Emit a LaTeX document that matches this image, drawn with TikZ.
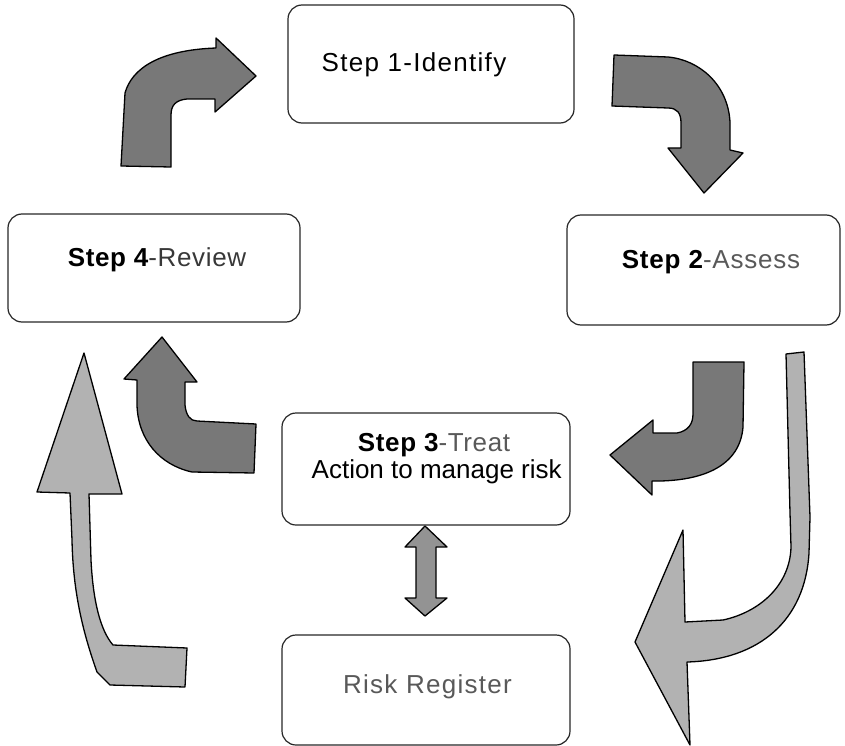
\documentclass[tikz,border=0pt]{standalone}
\usepackage{fontspec}
\setmainfont{Liberation Sans}
\newcommand\trk[2]{{\addfontfeature{LetterSpace=#1}#2}}
\newcommand\trkb[2]{{\bfseries\addfontfeature{LetterSpace=#1}#2}}
\definecolor{darkfill}{gray}{0.47}
\definecolor{lightfill}{gray}{0.70}
\definecolor{softtext}{gray}{0.35}
\definecolor{midtext}{gray}{0.22}
\begin{document}
\begin{tikzpicture}[x=1pt,y=-1pt,
  stepbox/.style={draw=black!85,line width=1.2pt,rounded corners=14pt,inner sep=0pt},
  label/.style={anchor=base,inner sep=0pt,font=\fontsize{26}{31}\selectfont},
  darkarrow/.style={draw=black,line width=1.3pt,fill=darkfill,line join=round},
  lightarrow/.style={draw=black,line width=1.3pt,fill=lightfill,line join=round}]
\useasboundingbox (0,0) rectangle (845,746);

% boxes
\draw[stepbox] (288,5) rectangle (574,123);
\draw[stepbox] (8,214) rectangle (300,322);
\draw[stepbox] (567,215) rectangle (840,325);
\draw[stepbox] (282,413) rectangle (570,525);
\draw[stepbox] (282,635) rectangle (570,745);

\coordinate (s1) at (431,64);
\coordinate (s4) at (154,268);
\coordinate (s2) at (703,270);
\coordinate (s3) at (426,469);
\coordinate (rr) at (426,690);

% box texts
\node[label] (t1) at (414,72) {\trk{5}{Step 1-Identify}};
\node[label] (t4) at (157,266.7) {\trkb{2.5}{Step 4}\textcolor{midtext}{\trk{2.5}{-Review}}};
\node[label] (t2) at (711,268) {\trkb{3}{Step 2}\textcolor{softtext}{\trk{3}{-Assess}}};
\node[label] (t3) at (434,451.7) {\trkb{2.5}{Step 3}\textcolor{softtext}{\trk{2.5}{-Treat}}};
\node[label] (t3b) at (436.7,478.3) {Action to manage risk};
\node[label] (trr) at (427.5,693.3) {\textcolor{softtext}{\trk{5}{Risk Register}}};

% Step 4 -> Step 1
\draw[darkarrow] (121,166) -- (125,93) .. controls (132,68) and (160,50) .. (216,48)
  -- (216,38) -- (256,76) -- (215,112) -- (215,99) -- (187,99)
  .. controls (176,100) and (171,105) .. (171,115) -- (171,167) -- cycle;

% Step 1 -> Step 2
\draw[darkarrow] (614,55) -- (668,57) .. controls (700,60) and (728,85) .. (730,122)
  -- (730,150) -- (743,153) -- (704,193) -- (668,148) -- (681,148) -- (681,123)
  .. controls (681,113) and (677,108) .. (668,108) -- (612,106) -- cycle;

% Step 2 -> Step 3
\draw[darkarrow] (693,362) -- (744,362) -- (743,427)
  .. controls (740,465) and (705,480) .. (660,481) -- (652,481) -- (652,495)
  -- (610,455) -- (653,420) -- (653,433) -- (677,433)
  .. controls (688,431) and (693,424) .. (693,414) -- cycle;

% Step 3 -> Step 4
\draw[darkarrow] (256,424) -- (254,473) -- (192,472)
  .. controls (160,465) and (138,440) .. (137,405) -- (137,380) -- (124,379)
  -- (162,337) -- (197,382) -- (185,382) -- (185,405)
  .. controls (186,415) and (190,421) .. (197,421) -- cycle;

% Step 2 -> Risk Register
\draw[lightarrow] (786,354) -- (804,352) -- (810,517) -- (809,553)
  .. controls (805,620) and (760,660) .. (687,662) -- (690,745) -- (635,642)
  -- (683,530) -- (685,622) -- (723,620)
  .. controls (760,612) and (790,585) .. (791,547) -- (790,513) -- cycle;

% Risk Register -> Step 4
\draw[lightarrow] (187,648) -- (185,687) -- (110,685) -- (97,672)
  .. controls (82,630) and (73,590) .. (72,540) -- (70,493) -- (37,492)
  -- (84,353) -- (122,494) -- (89,494) -- (91,560)
  .. controls (93,600) and (100,630) .. (113,645) -- cycle;

% Step 3 <-> Risk Register
\draw[lightarrow,fill=darkfill!80!white] (425,526) -- (447,547) -- (436,547) -- (436,598)
  -- (447,598) -- (425,616) -- (405,598) -- (416,598) -- (416,547)
  -- (405,547) -- cycle;
\end{tikzpicture}
\end{document}
